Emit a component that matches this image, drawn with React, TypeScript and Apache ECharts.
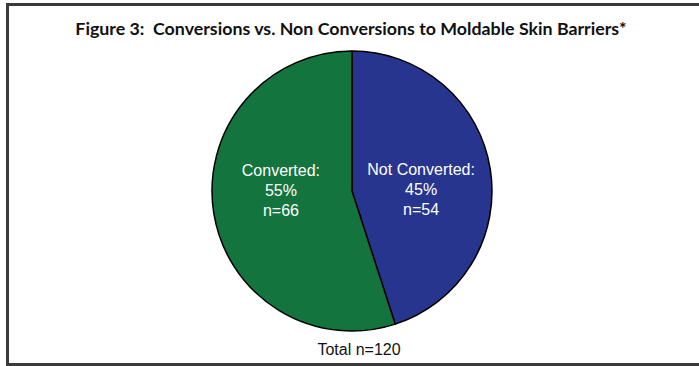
import React, { useEffect, useRef } from "react";
import * as echarts from "echarts";

const categories = ["Not Converted", "Converted"];
const counts = [54, 66];
const percents = [45, 55];
const colors = ["#28358f", "#13743d"];
const title = "Figure 3:  Conversions vs. Non Conversions to Moldable Skin Barriers*";
const totalLabel = "Total n=120";

export default function App() {
  const ref = useRef<HTMLDivElement>(null);

  useEffect(() => {
    if (!ref.current) return;
    const chart = echarts.init(ref.current, null, { renderer: "svg" });
    chart.setOption({
      animation: false,
      backgroundColor: "#ffffff",
      title: {
        text: title,
        left: 346,
        textAlign: "center",
        top: 14,
        textStyle: {
          fontFamily: "Lato",
          fontWeight: "bold",
          fontSize: 17.8,
          color: "#111",
        },
      },
      graphic: [
        {
          type: "rect",
          shape: { x: 7.5, y: 4.5, width: 720, height: 360 },
          style: { fill: "none", stroke: "#3a3a3a", lineWidth: 3 },
          silent: true,
        },
        {
          type: "text",
          x: 359,
          y: 349,
          style: {
            text: totalLabel,
            fontFamily: "Liberation Sans, Arial, sans-serif",
            fontSize: 16,
            fill: "#111",
            align: "center",
            verticalAlign: "middle",
          },
        },
      ],
      series: [
        {
          type: "pie",
          center: [352, 191],
          radius: 140,
          startAngle: 90,
          clockwise: true,
          silent: true,
          itemStyle: { borderColor: "#000", borderWidth: 1.5 },
          label: {
            show: true,
            position: "inside",
            color: "#ffffff",
            fontFamily: "Liberation Sans, Arial, sans-serif",
            fontSize: 16,
            lineHeight: 20,
            formatter: (p: any) =>
              `${p.name}:\n${percents[p.dataIndex]}%\nn=${counts[p.dataIndex]}`,
          },
          labelLayout: (p: any) => ({
            dy: p.dataIndex === 0 ? 10 : -12,
            dx: p.dataIndex === 0 ? -3 : 1,
          }),
          data: categories.map((name, i) => ({
            name,
            value: counts[i],
            itemStyle: { color: colors[i] },
          })),
        },
      ],
    });
    return () => chart.dispose();
  }, []);

  return (
    <div
      ref={ref}
      style={{ position: "fixed", left: 0, top: 0, width: 699, height: 366 }}
    />
  );
}
